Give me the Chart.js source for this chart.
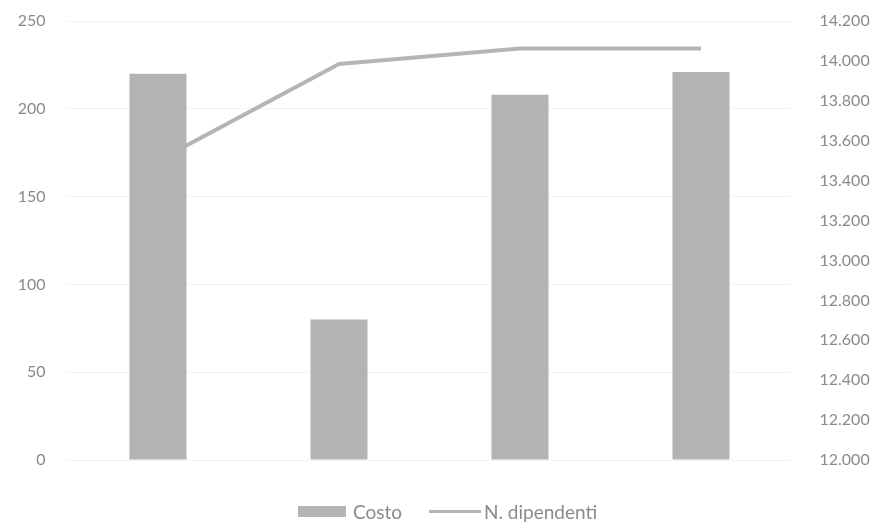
<!DOCTYPE html>
<html>
<head>
<meta charset="utf-8">
<script src="https://cdn.jsdelivr.net/npm/chart.js@4.4.1/dist/chart.umd.min.js"></script>
<style>
  html, body { margin: 0; padding: 0; background: #ffffff; }
  #wrap { position: relative; width: 883px; height: 523px; }
  canvas { display: block; }
  #legend { position: absolute; top: 499px; left: 0; width: 883px; height: 24px;
    font-family: Lato, "Open Sans", sans-serif; font-size: 19px; color: #8a8a8a; }
  .item { position: absolute; top: 0; display: flex; align-items: center; height: 24px; }
  .box { width: 48px; height: 11px; background: #b3b3b3; margin-right: 7px; }
  .ln { width: 52px; height: 3px; background: #b5b5b5; margin-right: 3px; }
</style>
</head>
<body>
<div id="wrap">
  <canvas id="c" width="883" height="523"></canvas>
  <div id="legend">
    <div class="item" style="left:298px"><span class="box"></span><span id="l0"></span></div>
    <div class="item" style="left:429px"><span class="ln"></span><span id="l1"></span></div>
  </div>
</div>
<script>
const categories = ["1", "2", "3", "4"];
const costo = [220, 80, 208, 221];
const dipendenti = [13500, 13985, 14062, 14062];
const seriesNames = ["Costo", "N. dipendenti"];

document.getElementById('l0').textContent = seriesNames[0];
document.getElementById('l1').textContent = seriesNames[1];

function fmtIt(v) {
  const th = Math.floor(v / 1000);
  const r = Math.round(v % 1000);
  return th + '.' + String(r).padStart(3, '0');
}

const tickFont = { family: 'Lato, "Open Sans", sans-serif', size: 16 };
const tickColor = '#8a8a8a';

new Chart(document.getElementById('c'), {
  data: {
    labels: categories,
    datasets: [
      {
        type: 'line',
        label: seriesNames[1],
        data: dipendenti,
        yAxisID: 'y1',
        borderColor: '#b5b5b5',
        borderWidth: 4,
        pointRadius: 0,
        tension: 0,
        order: 0
      },
      {
        type: 'bar',
        label: seriesNames[0],
        data: costo,
        yAxisID: 'y',
        backgroundColor: '#b3b3b3',
        barPercentage: 0.315,
        categoryPercentage: 1.0,
        order: 1
      }
    ]
  },
  options: {
    responsive: false,
    animation: false,
    layout: { padding: { left: 0, right: 0, top: 21, bottom: 63 } },
    plugins: { legend: { display: false }, tooltip: { enabled: false } },
    scales: {
      x: {
        display: false,
        grid: { display: false }
      },
      y: {
        position: 'left',
        min: 0, max: 250,
        ticks: { stepSize: 50, color: tickColor, font: tickFont, padding: 0 },
        grid: { color: '#f2f2f2', lineWidth: 1, drawTicks: true, tickLength: 22, tickColor: 'rgba(0,0,0,0)' },
        border: { display: false },
        afterFit: (s) => { s.width = 67.5; }
      },
      y1: {
        position: 'right',
        min: 12000, max: 14200,
        ticks: { stepSize: 200, color: tickColor, font: tickFont, padding: 0,
          callback: (v) => fmtIt(v) },
        grid: { display: false, drawTicks: true, tickLength: 28, tickColor: 'rgba(0,0,0,0)' },
        border: { display: false },
        afterFit: (s) => { s.width = 91.5; }
      }
    }
  }
});
</script>
</body>
</html>
